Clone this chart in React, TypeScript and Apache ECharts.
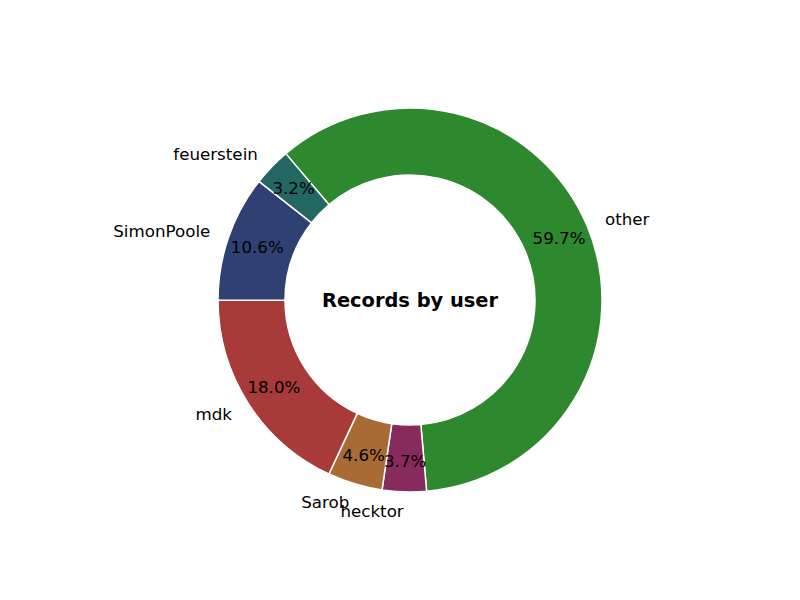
import React, { useEffect, useRef } from "react";
import * as echarts from "echarts";

const users = ["other", "hecktor", "Sarob", "mdk", "SimonPoole", "feuerstein"];
const shares = [59.7, 3.7, 4.6, 18.0, 10.6, 3.2];
const colors = ["#2e882e", "#862b5b", "#a86b35", "#a83a3a", "#2f4172", "#236762"];
const centerTitle = "Records by user";

export default function App() {
  const ref = useRef<HTMLDivElement>(null);
  useEffect(() => {
    const chart = echarts.init(ref.current!, null, { renderer: "svg" });
    const data = users.map((u, i) => ({ name: u, value: shares[i], itemStyle: { color: colors[i] } }));
    const outerR = 192;
    const innerR = 125;
    const center = [410, 300];
    chart.setOption({
      animation: false,
      backgroundColor: "#ffffff",
      graphic: [
        {
          type: "text",
          x: 410,
          y: 300,
          style: {
            text: centerTitle,
            font: "bold 19.4px 'DejaVu Sans'",
            fill: "#000",
            align: "center",
            verticalAlign: "middle",
          },
        },
      ],
      series: [
        {
          type: "pie",
          center,
          radius: [innerR, outerR],
          startAngle: 130.32,
          clockwise: true,
          avoidLabelOverlap: false,
          silent: true,
          itemStyle: { borderColor: "#ffffff", borderWidth: 1.5 },
          label: {
            show: true,
            position: "inside",
            formatter: (p: any) => p.value.toFixed(1) + "%",
            color: "#000",
            fontFamily: "DejaVu Sans",
            fontSize: 16.7,
            overflow: "none",
          },
          labelLayout: { hideOverlap: false },
          labelLine: { show: false },
          data,
        },
        {
          type: "pie",
          center,
          radius: [innerR, outerR],
          startAngle: 130.32,
          clockwise: true,
          avoidLabelOverlap: false,
          silent: true,
          itemStyle: { color: "transparent", borderWidth: 0 },
          label: {
            show: true,
            position: "outside",
            formatter: "{b}",
            color: "#000",
            fontFamily: "DejaVu Sans",
            fontSize: 16.7,
            distanceToLabelLine: 0,
            overflow: "none",
          },
          labelLayout: { hideOverlap: false },
          labelLine: { show: false, length: 19.2, length2: 0 },
          data: users.map((u, i) => ({ name: u, value: shares[i] })),
        },
      ],
    });
    return () => chart.dispose();
  }, []);
  return <div ref={ref} style={{ width: 800, height: 600, marginLeft: -8, marginTop: -8 }} />;
}
